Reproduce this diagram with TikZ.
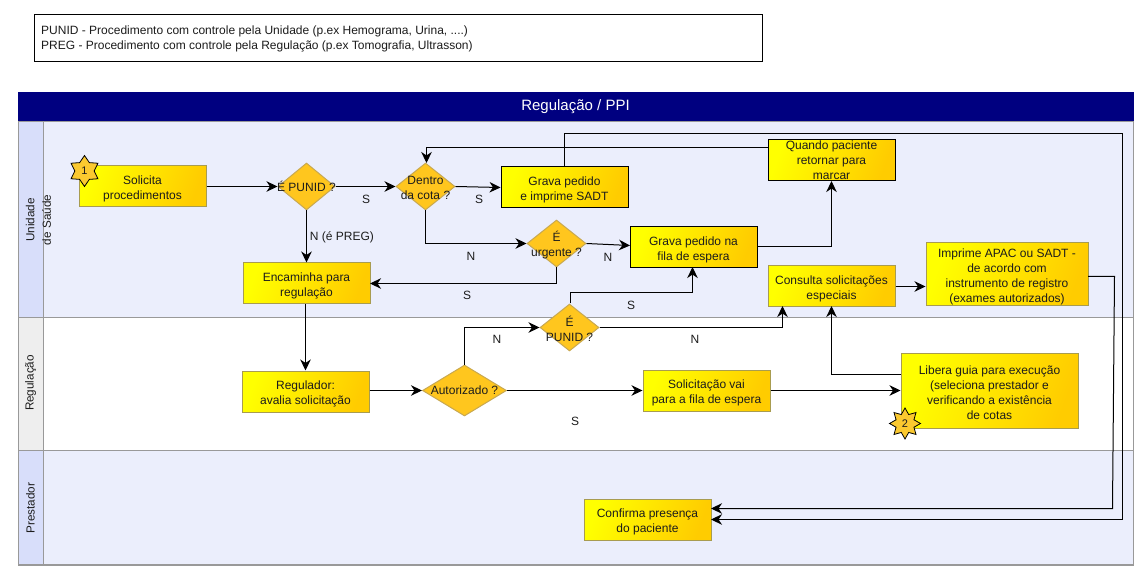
\documentclass[tikz,border=0pt]{standalone}
\usepackage{fontspec}
\setmainfont{Liberation Sans}
\usetikzlibrary{shapes.geometric,arrows.meta,calc}
\definecolor{lanea}{HTML}{EBEEFC}
\definecolor{lanehead}{HTML}{D8DEFA}
\definecolor{laneheadb}{HTML}{EEEEEE}
\definecolor{lanerule}{HTML}{999999}
\definecolor{navyhead}{HTML}{000080}
\definecolor{boxrule}{HTML}{A89C50}
\definecolor{boxend}{HTML}{FFCC00}
\definecolor{diafill}{HTML}{FFC61E}
\definecolor{diarule}{HTML}{C8A850}
\definecolor{startfill}{HTML}{FBC92F}
\definecolor{inkc}{HTML}{1C1C1C}
\newcommand{\bodyfont}{\fontsize{12}{14.8}\selectfont}
\newcommand{\lowerstrut}{\rule{0pt}{13.5pt}}
\tikzset{
  x=1pt,y=-1pt,
  flowbox/.style={rectangle,draw=boxrule,line width=1pt,left color=yellow,right color=boxend,
    shading angle=70,align=center,inner sep=0pt,text=inkc,font=\bodyfont},
  flowdark/.style={flowbox,draw=black},
  decision/.style={diamond,draw=diarule,line width=1pt,fill=diafill,inner sep=0pt,
    label={[align=center,text=inkc,font=\bodyfont]center:#1}},
  decisionlow/.style={diamond,draw=diarule,line width=1pt,fill=diafill,inner sep=0pt,
    label={[align=center,text=inkc,font=\bodyfont,yshift=-1.5pt]center:#1}},
  badge/.style={star,draw=black,line width=.8pt,fill=startfill,inner sep=0pt,text=inkc,font=\fontsize{11}{13}\selectfont},
  link/.style={draw=black,line width=1pt,-{Stealth[length=11pt,width=10.5pt,inset=3.5pt]}},
  txt/.style={inner sep=0pt,text=inkc,font=\bodyfont,align=center},
  lanetxt/.style={txt,rotate=90,font=\fontsize{11.7}{16.5}\selectfont},
  lanerect/.style={draw=lanerule,line width=1pt},
}
\begin{document}
\begin{tikzpicture}
\useasboundingbox (0,0) rectangle (1144,580);
\fill[white] (0,0) rectangle (1144,580);
% legend
\node[draw=black,line width=1pt,fill=white,minimum width=728pt,minimum height=47pt,inner sep=0pt] (legend) at (398,38.5) {};
\node[anchor=west,inner sep=0pt,text=inkc,font=\fontsize{12}{15}\selectfont,align=left] (legendtxt) at (41,38.5)
 {PUNID - Procedimento com controle pela Unidade (p.ex Hemograma, Urina, ....)\\
  PREG - Procedimento com controle pela Regulação (p.ex Tomografia, Ultrasson)};
% lanes
\fill[lanea] (43,121) rectangle (1134,317);
\fill[white] (43,317) rectangle (1134,450);
\fill[lanea] (43,450) rectangle (1134,565);
\fill[lanehead] (18,121) rectangle (43,317);
\fill[laneheadb] (18,317) rectangle (43,450);
\fill[lanehead] (18,450) rectangle (43,565);
\draw[lanerect] (18.5,121.5) rectangle (1133.5,317.5);
\draw[lanerect] (18.5,317.5) rectangle (1133.5,450.5);
\draw[lanerect] (18.5,450.5) rectangle (1133.5,565);
\draw[lanerect] (43,121) -- (43,565);
\draw[lanerule,line width=2pt] (18,565) -- (1134,565);
\fill[navyhead] (18,92) rectangle (1134,121);
\node[inner sep=0pt,text=white,font=\fontsize{15}{17}\selectfont] (title) at (575.5,107) {Regulação / PPI};
\node[lanetxt] (laneA) at (38.5,220) {Unidade\\de Saúde};
\node[lanetxt] (laneB) at (30.5,383) {Regulação};
\node[lanetxt] (laneC) at (30.5,508) {Prestador};
% boxes
\node[flowbox,minimum width=127pt,minimum height=41pt] (solicita) at (142.5,186.5) {\lowerstrut Solicita\\procedimentos};
\node[flowdark,minimum width=127pt,minimum height=41pt] (sadt) at (564.5,187.5) {\lowerstrut Grava pedido\\e imprime SADT};
\node[flowdark,minimum width=127pt,minimum height=41pt] (fila) at (693.5,247.5) {\lowerstrut Grava pedido na\\fila de espera};
\node[flowdark,minimum width=127pt,minimum height=41pt] (quando) at (831.5,160.5) {Quando paciente\\retornar para\\marcar};
\node[flowbox,minimum width=127pt,minimum height=41pt] (consulta) at (831.5,286.5) {\lowerstrut Consulta solicitações\\especiais};
\node[flowbox,minimum width=162pt,minimum height=63pt] (imprime) at (1007,274.5) {\lowerstrut Imprime APAC ou SADT -\\de acordo com\\instrumento de registro\\(exames autorizados)};
\node[flowbox,minimum width=127pt,minimum height=41pt] (encaminha) at (306.5,283.5) {\lowerstrut Encaminha para\\regulação};
\node[flowbox,minimum width=127pt,minimum height=41pt] (regulador) at (305.5,391.5) {\lowerstrut Regulador:\\avalia solicitação};
\node[flowbox,minimum width=127pt,minimum height=41pt] (espera) at (706.5,390.5) {\lowerstrut Solicitação vai\\para a fila de espera};
\node[flowbox,minimum width=177pt,minimum height=75pt] (libera) at (989.5,390.5) {\lowerstrut Libera guia para execução\\(seleciona prestador e\\verificando a existência\\de cotas};
\node[flowbox,minimum width=127pt,minimum height=41pt] (confirma) at (647.5,519.5) {\lowerstrut Confirma presença\\do paciente};
% decisions
\node[decision={É PUNID ?},minimum width=57pt,minimum height=47pt] (punid) at (306.5,186.5) {};
\node[decisionlow={Dentro\\da cota ?},minimum width=59pt,minimum height=47pt] (dentro) at (425.5,186.5) {};
\node[decisionlow={É\\urgente ?},minimum width=59pt,minimum height=47pt] (urgente) at (556.5,243.5) {};
\node[decisionlow={É\\PUNID ?},minimum width=59pt,minimum height=47pt] (punidb) at (569.5,327.5) {};
\node[decision={Autorizado ?},minimum width=84pt,minimum height=51pt] (autorizado) at (464.5,390.5) {};
% badges
\node[badge,star points=6,star point ratio=1.6,minimum size=31pt] (stara) at (84.5,171) {1};
\node[badge,star points=8,star point ratio=1.6,minimum size=31pt] (starb) at (905,423.5) {2};
% routing points
\coordinate (topright) at (1122.5,133.5);
\coordinate (confa) at (711,508.5);
\coordinate (confb) at (711,519.5);
\coordinate (imprimeout) at (1088,276.5);
\coordinate (kneeb) at (1112.5,508.5);
\coordinate (kneea) at (1114.5,276.5);
\coordinate (quandoout) at (768,147.5);
\coordinate (dentrotop) at (426.5,163);
\coordinate (consultaA) at (782.5,306);
\coordinate (consultaB) at (831.5,306);
\coordinate (filaB) at (692.5,267);
\coordinate (filaA) at (831.5,181);
\coordinate (filaout) at (757,246.5);
\coordinate (filain) at (630,245.5);
\coordinate (liberaout) at (901,374.5);
\coordinate (urgleft) at (370,283.5);
\coordinate (filavia) at (570.5,292.5);
% connectors
\draw[link] (solicita.east |- punid.west) -- (punid.west);
\draw[link] (punid.east) -- (dentro.west);
\draw[link] (punid.south) -- (punid.south |- encaminha.north);
\draw[link] (dentro.east) -- (sadt.west);
\draw[link] (dentro.south) |- (urgente.west);
\draw[link] (urgente.east) -- (filain);
\draw[link] (urgente.south) |- (urgleft);
\draw[link] (sadt.north) |- (topright) -- (topright |- confb) -- (confb);
\draw[link] (quandoout) -- (quandoout -| dentrotop) -- (dentrotop);
\draw[link] (filaout) -| (filaA);
\draw[link] (encaminha.south -| regulador.north) -- (regulador.north);
\draw[link] (regulador.east |- autorizado.west) -- (autorizado.west);
\draw[link] (autorizado.east) -- (espera.west);
\draw[link] (autorizado.north) |- (punidb.west);
\draw[link] (punidb.north -| filavia) |- (filavia) -| (filaB);
\draw[link] (punidb.east) -| (consultaA);
\draw[link] (consulta.east) -- (imprime.west |- consulta.east);
\draw[link] (espera.east) -- (libera.west);
\draw[link] (liberaout) -- (liberaout -| consultaB) -- (consultaB);
\draw[link] (imprimeout) -- (kneea) -- (kneeb) -- (confa);
% labels
\node[txt] (ls1) at (366,199) {S};
\node[txt] (ln1) at (342,237) {N (é PREG)};
\node[txt] (ls2) at (479,199) {S};
\node[txt] (ln2) at (471,256) {N};
\node[txt] (ln3) at (608,257) {N};
\node[txt] (ls3) at (467,295) {S};
\node[txt] (ls4) at (631,305) {S};
\node[txt] (ln4) at (497,339) {N};
\node[txt] (ln5) at (695,339) {N};
\node[txt] (ls5) at (575,421) {S};
\end{tikzpicture}
\end{document}
